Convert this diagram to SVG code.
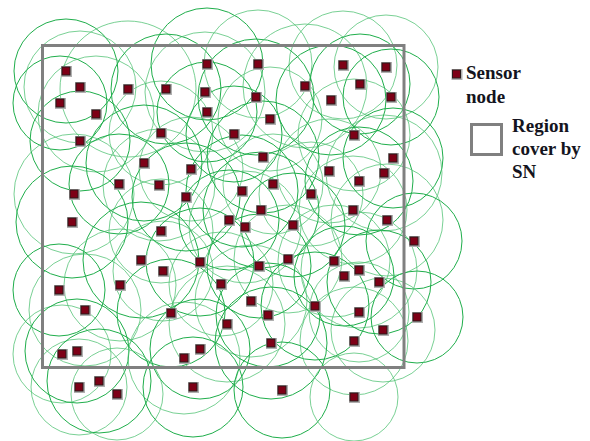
<svg xmlns="http://www.w3.org/2000/svg" width="590" height="441" viewBox="0 0 590 441">
<style>
.c{fill:none;stroke:#1fae4b;stroke-width:1}
.l{fill:none;stroke:#4cc070;stroke-width:1;stroke-opacity:0.75}
.sn{fill:#7d0016;stroke:#2b1a1a;stroke-width:1}
.sh{fill:#b0b0b0}
.reg{fill:none;stroke:#808080;stroke-width:3}
.t{font-family:"Liberation Serif","Times New Roman",serif;font-weight:bold;font-size:19px;fill:#141420}
</style>
<defs>
<g id="s"><rect class="sh" x="-5" y="-5" width="11" height="11"/><rect class="sn" x="-4" y="-4" width="8" height="8"/></g>
</defs>
<rect width="590" height="441" fill="#ffffff"/>
<g id="coverage">
<circle class="c" cx="66" cy="71" r="52"/>
<circle class="l" cx="80" cy="87" r="56"/>
<circle class="c" cx="60" cy="103" r="47"/>
<circle class="l" cx="96" cy="114" r="58"/>
<circle class="c" cx="80" cy="141" r="50"/>
<circle class="l" cx="128" cy="89" r="68"/>
<circle class="c" cx="166" cy="89" r="55"/>
<circle class="l" cx="161" cy="133" r="52"/>
<circle class="c" cx="207" cy="64" r="56"/>
<circle class="l" cx="205" cy="92" r="60"/>
<circle class="c" cx="207" cy="112" r="50"/>
<circle class="l" cx="258" cy="64" r="54"/>
<circle class="c" cx="256" cy="97" r="58"/>
<circle class="l" cx="270" cy="119" r="52"/>
<circle class="c" cx="234" cy="134" r="48"/>
<circle class="l" cx="305" cy="86" r="62"/>
<circle class="c" cx="331" cy="100" r="55"/>
<circle class="l" cx="343" cy="65" r="54"/>
<circle class="c" cx="360" cy="84" r="50"/>
<circle class="l" cx="386" cy="67" r="52"/>
<circle class="c" cx="391" cy="97" r="48"/>
<circle class="l" cx="354" cy="135" r="56"/>
<circle class="c" cx="144" cy="163" r="58"/>
<circle class="l" cx="191" cy="169" r="52"/>
<circle class="c" cx="119" cy="184" r="50"/>
<circle class="l" cx="159" cy="185" r="56"/>
<circle class="c" cx="186" cy="197" r="54"/>
<circle class="l" cx="74" cy="194" r="60"/>
<circle class="c" cx="72" cy="222" r="56"/>
<circle class="l" cx="161" cy="231" r="52"/>
<circle class="c" cx="141" cy="260" r="58"/>
<circle class="l" cx="163" cy="271" r="50"/>
<circle class="c" cx="200" cy="262" r="54"/>
<circle class="l" cx="120" cy="285" r="56"/>
<circle class="c" cx="59" cy="290" r="46"/>
<circle class="l" cx="221" cy="284" r="52"/>
<circle class="c" cx="263" cy="157" r="56"/>
<circle class="l" cx="329" cy="171" r="52"/>
<circle class="c" cx="393" cy="158" r="50"/>
<circle class="l" cx="384" cy="173" r="58"/>
<circle class="c" cx="359" cy="181" r="54"/>
<circle class="l" cx="273" cy="184" r="50"/>
<circle class="c" cx="242" cy="191" r="56"/>
<circle class="l" cx="311" cy="194" r="52"/>
<circle class="c" cx="261" cy="210" r="58"/>
<circle class="l" cx="353" cy="210" r="54"/>
<circle class="c" cx="229" cy="220" r="50"/>
<circle class="l" cx="245" cy="227" r="56"/>
<circle class="c" cx="293" cy="225" r="52"/>
<circle class="l" cx="387" cy="220" r="56"/>
<circle class="c" cx="414" cy="241" r="48"/>
<circle class="l" cx="288" cy="259" r="54"/>
<circle class="c" cx="259" cy="266" r="52"/>
<circle class="l" cx="334" cy="261" r="56"/>
<circle class="c" cx="344" cy="276" r="50"/>
<circle class="l" cx="359" cy="270" r="58"/>
<circle class="c" cx="379" cy="282" r="52"/>
<circle class="l" cx="85" cy="310" r="56"/>
<circle class="c" cx="171" cy="313" r="54"/>
<circle class="l" cx="62" cy="354" r="49"/>
<circle class="c" cx="77" cy="351" r="52"/>
<circle class="l" cx="184" cy="358" r="56"/>
<circle class="c" cx="200" cy="349" r="50"/>
<circle class="l" cx="79" cy="387" r="48"/>
<circle class="c" cx="99" cy="381" r="52"/>
<circle class="l" cx="117" cy="394" r="46"/>
<circle class="c" cx="193" cy="387" r="50"/>
<circle class="l" cx="251" cy="301" r="56"/>
<circle class="c" cx="268" cy="315" r="52"/>
<circle class="l" cx="227" cy="324" r="58"/>
<circle class="c" cx="315" cy="306" r="54"/>
<circle class="l" cx="359" cy="312" r="50"/>
<circle class="c" cx="417" cy="317" r="46"/>
<circle class="l" cx="383" cy="330" r="52"/>
<circle class="c" cx="271" cy="343" r="56"/>
<circle class="l" cx="354" cy="341" r="54"/>
<circle class="c" cx="282" cy="390" r="48"/>
<circle class="l" cx="354" cy="397" r="44"/>
</g>
<g id="region"><rect class="reg" x="42.5" y="45.5" width="361.5" height="322"/></g>
<g id="nodes">
<g id="n1"><use href="#s" x="66" y="71"/></g>
<g id="n2"><use href="#s" x="80" y="87"/></g>
<g id="n3"><use href="#s" x="60" y="103"/></g>
<g id="n4"><use href="#s" x="96" y="114"/></g>
<g id="n5"><use href="#s" x="80" y="141"/></g>
<g id="n6"><use href="#s" x="128" y="89"/></g>
<g id="n7"><use href="#s" x="166" y="89"/></g>
<g id="n8"><use href="#s" x="161" y="133"/></g>
<g id="n9"><use href="#s" x="207" y="64"/></g>
<g id="n10"><use href="#s" x="205" y="92"/></g>
<g id="n11"><use href="#s" x="207" y="112"/></g>
<g id="n12"><use href="#s" x="258" y="64"/></g>
<g id="n13"><use href="#s" x="256" y="97"/></g>
<g id="n14"><use href="#s" x="270" y="119"/></g>
<g id="n15"><use href="#s" x="234" y="134"/></g>
<g id="n16"><use href="#s" x="305" y="86"/></g>
<g id="n17"><use href="#s" x="331" y="100"/></g>
<g id="n18"><use href="#s" x="343" y="65"/></g>
<g id="n19"><use href="#s" x="360" y="84"/></g>
<g id="n20"><use href="#s" x="386" y="67"/></g>
<g id="n21"><use href="#s" x="391" y="97"/></g>
<g id="n22"><use href="#s" x="354" y="135"/></g>
<g id="n23"><use href="#s" x="144" y="163"/></g>
<g id="n24"><use href="#s" x="191" y="169"/></g>
<g id="n25"><use href="#s" x="119" y="184"/></g>
<g id="n26"><use href="#s" x="159" y="185"/></g>
<g id="n27"><use href="#s" x="186" y="197"/></g>
<g id="n28"><use href="#s" x="74" y="194"/></g>
<g id="n29"><use href="#s" x="72" y="222"/></g>
<g id="n30"><use href="#s" x="161" y="231"/></g>
<g id="n31"><use href="#s" x="141" y="260"/></g>
<g id="n32"><use href="#s" x="163" y="271"/></g>
<g id="n33"><use href="#s" x="200" y="262"/></g>
<g id="n34"><use href="#s" x="120" y="285"/></g>
<g id="n35"><use href="#s" x="59" y="290"/></g>
<g id="n36"><use href="#s" x="221" y="284"/></g>
<g id="n37"><use href="#s" x="263" y="157"/></g>
<g id="n38"><use href="#s" x="329" y="171"/></g>
<g id="n39"><use href="#s" x="393" y="158"/></g>
<g id="n40"><use href="#s" x="384" y="173"/></g>
<g id="n41"><use href="#s" x="359" y="181"/></g>
<g id="n42"><use href="#s" x="273" y="184"/></g>
<g id="n43"><use href="#s" x="242" y="191"/></g>
<g id="n44"><use href="#s" x="311" y="194"/></g>
<g id="n45"><use href="#s" x="261" y="210"/></g>
<g id="n46"><use href="#s" x="353" y="210"/></g>
<g id="n47"><use href="#s" x="229" y="220"/></g>
<g id="n48"><use href="#s" x="245" y="227"/></g>
<g id="n49"><use href="#s" x="293" y="225"/></g>
<g id="n50"><use href="#s" x="387" y="220"/></g>
<g id="n51"><use href="#s" x="414" y="241"/></g>
<g id="n52"><use href="#s" x="288" y="259"/></g>
<g id="n53"><use href="#s" x="259" y="266"/></g>
<g id="n54"><use href="#s" x="334" y="261"/></g>
<g id="n55"><use href="#s" x="344" y="276"/></g>
<g id="n56"><use href="#s" x="359" y="270"/></g>
<g id="n57"><use href="#s" x="379" y="282"/></g>
<g id="n58"><use href="#s" x="85" y="310"/></g>
<g id="n59"><use href="#s" x="171" y="313"/></g>
<g id="n60"><use href="#s" x="62" y="354"/></g>
<g id="n61"><use href="#s" x="77" y="351"/></g>
<g id="n62"><use href="#s" x="184" y="358"/></g>
<g id="n63"><use href="#s" x="200" y="349"/></g>
<g id="n64"><use href="#s" x="79" y="387"/></g>
<g id="n65"><use href="#s" x="99" y="381"/></g>
<g id="n66"><use href="#s" x="117" y="394"/></g>
<g id="n67"><use href="#s" x="193" y="387"/></g>
<g id="n68"><use href="#s" x="251" y="301"/></g>
<g id="n69"><use href="#s" x="268" y="315"/></g>
<g id="n70"><use href="#s" x="227" y="324"/></g>
<g id="n71"><use href="#s" x="315" y="306"/></g>
<g id="n72"><use href="#s" x="359" y="312"/></g>
<g id="n73"><use href="#s" x="417" y="317"/></g>
<g id="n74"><use href="#s" x="383" y="330"/></g>
<g id="n75"><use href="#s" x="271" y="343"/></g>
<g id="n76"><use href="#s" x="354" y="341"/></g>
<g id="n77"><use href="#s" x="282" y="390"/></g>
<g id="n78"><use href="#s" x="354" y="397"/></g>
</g>
<g id="legend">
<use href="#s" x="456.5" y="74"/>
<text class="t" x="466" y="79">Sensor</text>
<text class="t" x="466" y="103">node</text>
<rect class="reg" x="471.5" y="124.5" width="30" height="30"/>
<text class="t" x="512" y="132">Region</text>
<text class="t" x="512" y="155">cover by</text>
<text class="t" x="512" y="178">SN</text>
</g>
</svg>
